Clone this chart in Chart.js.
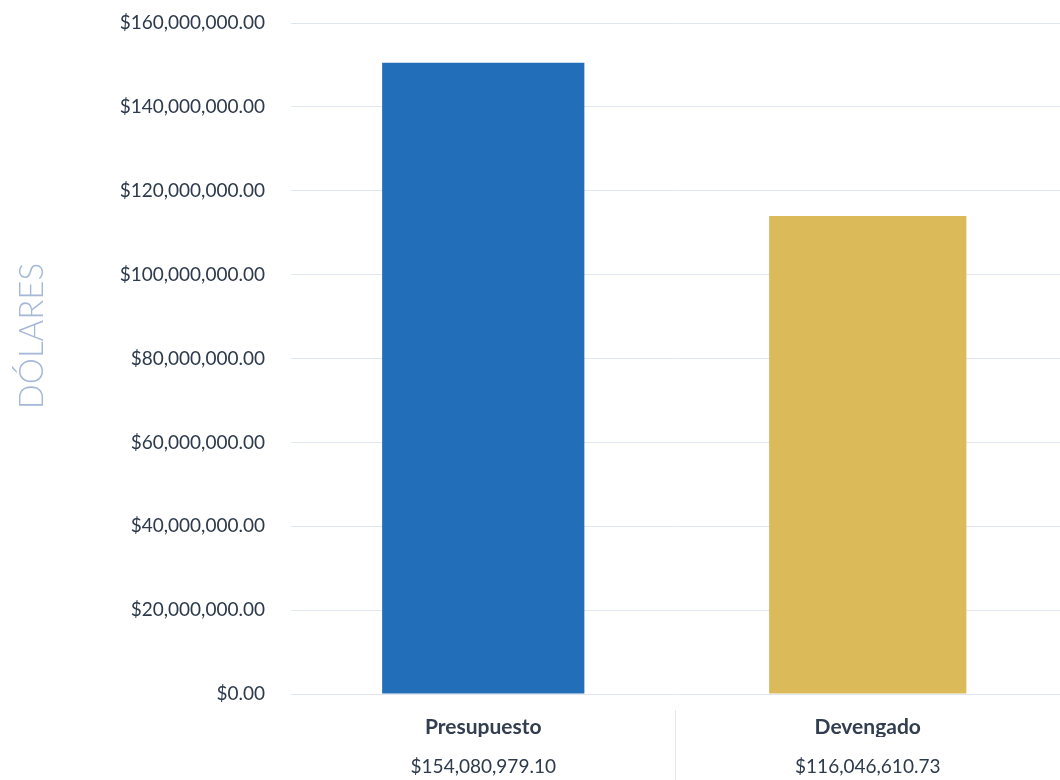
<!DOCTYPE html>
<html>
<head>
<meta charset="utf-8">
<script src="https://cdn.jsdelivr.net/npm/chart.js@4/dist/chart.umd.min.js"></script>
<style>
  html, body { margin: 0; padding: 0; background: #ffffff; }
  #wrap { width: 1060px; height: 780px; position: relative; }
</style>
</head>
<body>
<div id="wrap"><canvas id="c" width="1060" height="780"></canvas></div>
<script>
const categories = ['Presupuesto', 'Devengado'];
const valueLabels = ['$154,080,979.10', '$116,046,610.73'];
const barValues = [150500000, 114000000];
const barColors = ['#236eb8', '#dbba5a'];
const barWidths = [0.526, 0.513];
const yMax = 160000000;
const yStep = 20000000;
const yTitle = 'DÓLARES';

const fmt = v => '$' + Number(v).toLocaleString('en-US', {minimumFractionDigits: 2, maximumFractionDigits: 2});

const datasets = barValues.map((v, i) => ({
  label: categories[i],
  data: barValues.map((w, j) => (j === i ? w : null)),
  backgroundColor: barColors[i],
  borderWidth: 0,
  grouped: false,
  barPercentage: barWidths[i],
  categoryPercentage: 1,
  xAxisID: 'x',
  yAxisID: 'y'
}));

new Chart(document.getElementById('c'), {
  type: 'bar',
  data: { labels: categories, datasets },
  options: {
    responsive: false,
    animation: false,
    layout: { padding: { top: 23, left: 0, right: 0, bottom: 0 } },
    plugins: { legend: { display: false }, tooltip: { enabled: false } },
    scales: {
      x: {
        type: 'category',
        position: 'bottom',
        offset: true,
        border: { display: false },
        grid: {
          display: true,
          offset: true,
          drawOnChartArea: false,
          drawTicks: true,
          tickLength: 86,
          tickBorderDash: [0, 16, 300],
          color: ctx => (ctx.index === 1 ? '#e3e8f0' : 'rgba(0,0,0,0)'),
          lineWidth: 1
        },
        ticks: {
          padding: -65.6,
          color: '#323e50',
          font: { family: 'Lato', size: 21, weight: 'bold' },
          maxRotation: 0
        },
        afterFit: s => { s.height = 43; }
      },
      x2: {
        type: 'category',
        position: 'bottom',
        labels: valueLabels,
        offset: true,
        border: { display: false },
        grid: { display: false, drawTicks: false },
        ticks: {
          padding: 18.6,
          color: '#2d3a4b',
          font: { family: 'Lato', size: 19 },
          maxRotation: 0
        },
        afterFit: s => { s.height = 43; }
      },
      y: {
        type: 'linear',
        position: 'left',
        min: 0,
        max: yMax,
        border: { display: false },
        grid: { color: '#dfe6ef', lineWidth: 1, drawTicks: true, tickLength: 26, tickColor: 'rgba(0,0,0,0)' },
        ticks: {
          stepSize: yStep,
          padding: 0,
          color: '#2d3a4b',
          font: { family: 'Lato', size: 19 },
          callback: v => fmt(v)
        },
        title: {
          display: true,
          text: '     ' + yTitle,
          color: '#a5b8d8',
          font: { family: 'Lato', size: 33, weight: '300' },
          padding: { top: 13, bottom: 67 }
        },
        afterFit: s => { s.width = 291; }
      }
    }
  }
});
</script>
</body>
</html>
